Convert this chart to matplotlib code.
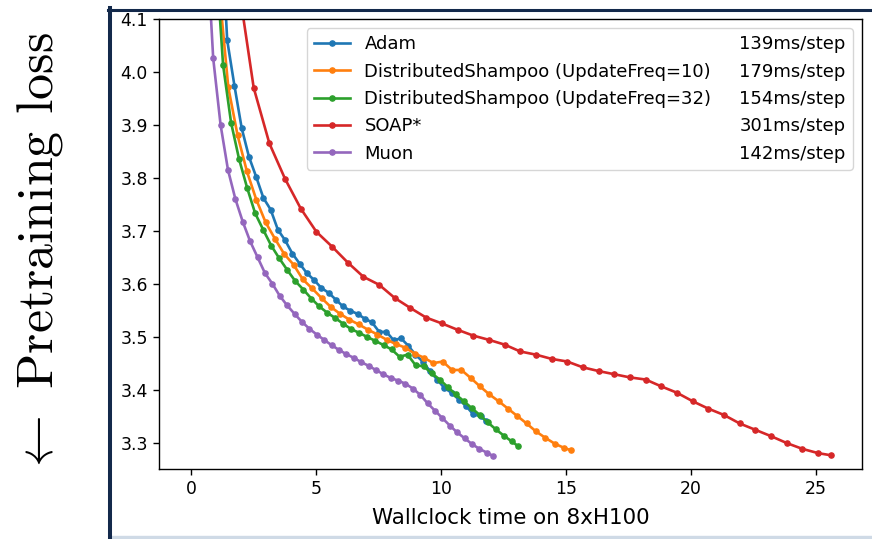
import numpy as np
import matplotlib.pyplot as plt
from matplotlib.lines import Line2D
from matplotlib.patches import Rectangle

plt.rcParams['font.size'] = 12.4
plt.rcParams['mathtext.fontset'] = 'cm'

# evaluation steps (same for every run)
eval_steps = [0, 125, 250, 375, 500, 625, 750, 875, 1000, 1125, 1250, 1375,
              1500, 1625, 1750, 1875, 2000, 2125, 2250, 2375, 2500, 2625,
              2750, 2875, 3000, 3125, 3250, 3375, 3500, 3625, 3750, 3875,
              4000, 4125, 4250, 4375, 4500, 4625, 4750, 4875, 5000, 5100]

names = ['Adam', 'DistributedShampoo (UpdateFreq=10)',
         'DistributedShampoo (UpdateFreq=32)', 'SOAP*', 'Muon']
ms_per_step = [139, 179, 154, 301, 142]
colors = ['tab:blue', 'tab:orange', 'tab:green', 'tab:red', 'tab:purple']

adam_loss = [10.9, 6.2, 5.1, 4.6, 4.32, 4.060, 3.974, 3.894, 3.840, 3.802,
             3.762, 3.740, 3.702, 3.682, 3.657, 3.638, 3.620, 3.607, 3.592,
             3.583, 3.570, 3.557, 3.549, 3.543, 3.534, 3.527, 3.509, 3.509,
             3.493, 3.497, 3.483, 3.466, 3.453, 3.435, 3.419, 3.403, 3.394,
             3.381, 3.369, 3.353, 3.350, 3.340]
shampoo10_loss = [10.9, 5.9, 4.65, 4.16, 3.971, 3.880, 3.812, 3.759, 3.716,
                  3.685, 3.656, 3.636, 3.608, 3.591, 3.573, 3.556, 3.543,
                  3.532, 3.523, 3.513, 3.504, 3.494, 3.486, 3.479, 3.468,
                  3.460, 3.450, 3.453, 3.437, 3.437, 3.422, 3.406, 3.391,
                  3.378, 3.364, 3.350, 3.336, 3.321, 3.309, 3.298, 3.290, 3.285]
shampoo32_loss = [10.9, 5.6, 4.55, 4.24, 4.013, 3.904, 3.835, 3.781, 3.733,
                  3.702, 3.672, 3.648, 3.626, 3.605, 3.589, 3.572, 3.557,
                  3.545, 3.535, 3.524, 3.514, 3.507, 3.499, 3.492, 3.484,
                  3.476, 3.462, 3.466, 3.446, 3.444, 3.431, 3.419, 3.405,
                  3.391, 3.378, 3.365, 3.352, 3.338, 3.325, 3.313, 3.302, 3.293]
soap_loss = [10.9, 6.5, 5.0, 4.17, 3.970, 3.865, 3.798, 3.742, 3.698, 3.670,
             3.640, 3.613, 3.598, 3.573, 3.554, 3.536, 3.525, 3.513, 3.502,
             3.494, 3.485, 3.472, 3.466, 3.458, 3.453, 3.442, 3.435, 3.429,
             3.423, 3.419, 3.406, 3.394, 3.378, 3.364, 3.352, 3.336, 3.324,
             3.312, 3.299, 3.288, 3.280, 3.276]
muon_loss = [10.9, 5.3, 4.28, 4.026, 3.900, 3.815, 3.760, 3.717, 3.680, 3.650,
             3.620, 3.600, 3.577, 3.559, 3.543, 3.528, 3.515, 3.504, 3.494,
             3.484, 3.475, 3.467, 3.460, 3.452, 3.445, 3.437, 3.429, 3.422,
             3.417, 3.411, 3.402, 3.390, 3.374, 3.360, 3.346, 3.332, 3.319,
             3.308, 3.297, 3.288, 3.281, 3.275]
all_losses = [adam_loss, shampoo10_loss, shampoo32_loss, soap_loss, muon_loss]

fig = plt.figure(figsize=(8.72, 5.39), dpi=100)
ax = fig.add_axes([159 / 872, 70 / 539, 703 / 872, 450 / 539])

lines = []
steps = np.array(eval_steps)
for name, ms, loss, c in zip(names, ms_per_step, all_losses, colors):
    minutes = steps * ms / 60000.0
    ln, = ax.plot(minutes, loss, marker='.', markersize=7.5, linewidth=1.9,
                  color=c, label=name)
    lines.append(ln)

ax.set_xlim(-1.28, 26.84)
ax.set_ylim(3.25, 4.1)
ax.set_xticks([0, 5, 10, 15, 20, 25])
ax.set_yticks([3.3, 3.4, 3.5, 3.6, 3.7, 3.8, 3.9, 4.0, 4.1])
ax.tick_params(length=4.5, width=1.0)
for s in ax.spines.values():
    s.set_linewidth(1.0)
ax.set_xlabel('Wallclock time on 8xH100', fontsize=15.4, labelpad=7)

# second legend column holds the step times
blanks = [Line2D([], [], linestyle='none') for _ in names]
ax.legend(lines + blanks, names + [f'{m}ms/step' for m in ms_per_step],
          ncol=2, columnspacing=-1.25, loc='upper right', fontsize=13.0,
          labelspacing=0.52)

# y label from the slide
fig.text(40 / 872, 1 - 254 / 539, r'$\leftarrow$ Pretraining loss',
         family='cmr10', fontsize=37.4, rotation=90, ha='center', va='center')

# slide frame
navy = '#13294b'
fig.add_artist(Line2D([109.5 / 872, 109.5 / 872], [0, 1 - 8 / 539],
                      color=navy, lw=2.9, transform=fig.transFigure))
fig.add_artist(Line2D([108 / 872, 1], [1 - 9.5 / 539, 1 - 9.5 / 539],
                      color=navy, lw=2.2, transform=fig.transFigure))
fig.add_artist(Rectangle((111 / 872, 0), 1, 3 / 539, color='#cfdae6',
                         transform=fig.transFigure))

fig.savefig('out.png', dpi=100)
